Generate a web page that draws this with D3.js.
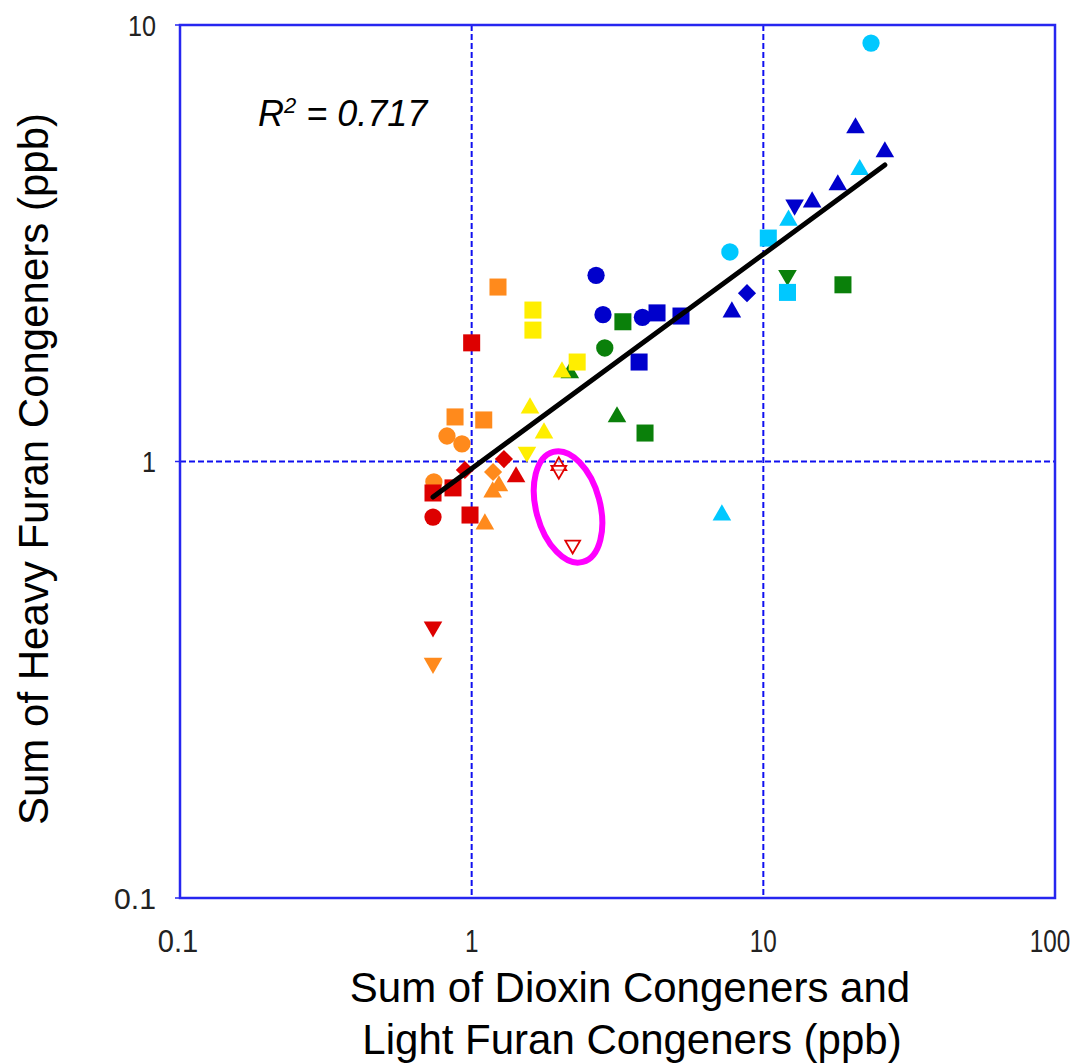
<!DOCTYPE html>
<html>
<head>
<meta charset="utf-8">
<script src="https://cdn.jsdelivr.net/npm/d3@7/dist/d3.min.js"></script>
<style>
  body { margin: 0; background: #fff; }
  svg { display: block; }
</style>
</head>
<body>
<div id="chart"></div>
<script>
// values: x = dioxin + light furan (ppb), y = heavy furan (ppb)
var redPts = [
    {x: 1.00, y: 1.87, s: "square"},
    {x: 0.737, y: 0.847, s: "square"},
    {x: 0.987, y: 0.754, s: "square"},
    {x: 0.863, y: 0.870, s: "square"},
    {x: 0.737, y: 0.746, s: "circle"},
    {x: 0.948, y: 0.956, s: "diamond"},
    {x: 1.29, y: 1.013, s: "diamond"},
    {x: 1.42, y: 0.922, s: "triangle"},
    {x: 0.737, y: 0.418, s: "down"}
];
var orangePts = [
    {x: 1.231, y: 2.51, s: "square"},
    {x: 0.877, y: 1.265, s: "square"},
    {x: 1.10, y: 1.245, s: "square"},
    {x: 0.823, y: 1.144, s: "circle"},
    {x: 0.926, y: 1.097, s: "circle"},
    {x: 0.742, y: 0.898, s: "circle"},
    {x: 1.184, y: 0.946, s: "diamond"},
    {x: 1.18, y: 0.851, s: "triangle"},
    {x: 1.24, y: 0.879, s: "triangle"},
    {x: 1.11, y: 0.719, s: "triangle"},
    {x: 0.737, y: 0.345, s: "down"}
];
var yellowPts = [
    {x: 1.622, y: 2.223, s: "square"},
    {x: 1.622, y: 2.00, s: "square"},
    {x: 2.30, y: 1.69, s: "square"},
    {x: 1.585, y: 1.326, s: "triangle"},
    {x: 1.77, y: 1.162, s: "triangle"},
    {x: 1.547, y: 1.051, s: "down"}
];
var yellowFront = [
    {x: 2.04, y: 1.603, s: "triangle"}
];
var greenPts = [
    {x: 2.17, y: 1.595, s: "triangle"},
    {x: 2.86, y: 1.82, s: "circle"},
    {x: 3.30, y: 2.09, s: "square"},
    {x: 3.15, y: 1.265, s: "triangle"},
    {x: 3.93, y: 1.162, s: "square"},
    {x: 12.1, y: 2.67, s: "down"},
    {x: 18.75, y: 2.54, s: "square"}
];
var bluePts = [
    {x: 2.67, y: 2.67, s: "circle"},
    {x: 2.82, y: 2.17, s: "circle"},
    {x: 3.85, y: 2.14, s: "circle"},
    {x: 4.32, y: 2.19, s: "square"},
    {x: 5.22, y: 2.154, s: "square"},
    {x: 3.75, y: 1.69, s: "square"},
    {x: 7.8, y: 2.20, s: "triangle"},
    {x: 8.79, y: 2.43, s: "diamond"},
    {x: 12.8, y: 3.87, s: "down"},
    {x: 14.7, y: 3.93, s: "triangle"},
    {x: 18.0, y: 4.30, s: "triangle"},
    {x: 20.7, y: 5.81, s: "triangle"},
    {x: 26.1, y: 5.12, s: "triangle"}
];
var cyanPts = [
    {x: 23.4, y: 9.09, s: "circle"},
    {x: 7.68, y: 3.02, s: "circle"},
    {x: 10.4, y: 3.25, s: "square"},
    {x: 12.2, y: 3.57, s: "triangle"},
    {x: 21.4, y: 4.66, s: "triangle"},
    {x: 12.1, y: 2.44, s: "square"},
    {x: 7.21, y: 0.754, s: "triangle"}
];
// hollow red markers inside the magenta ring
var openPts = [
    {x: 1.99, y: 0.977, s: "triangle"},
    {x: 1.99, y: 0.955, s: "down"},
    {x: 2.22, y: 0.644, s: "down"}
];
var trendEnds = [[0.737, 0.829], [26.1, 4.78]];
var rSquared = "0.717";
var ringCenter = {x: 2.14, y: 0.787};

var xTicks = [0.1, 1, 10, 100];
var yTicks = [0.1, 1, 10];
var xTitle = ["Sum of Dioxin Congeners and", "Light Furan Congeners (ppb)"];
var yTitle = "Sum of Heavy Furan Congeners (ppb)";

var width = 1083, height = 1064;
var pLeft = 180, pRight = 1055, pTop = 25, pBottom = 898;

var svg = d3.select("#chart").append("svg")
    .attr("width", width)
    .attr("height", height);

var x = d3.scaleLog().domain([0.1, 100]).range([pLeft, pRight]);
var y = d3.scaleLog().domain([0.1, 10]).range([pBottom, pTop]);

// dashed grid at the decades
svg.selectAll(".vgrid")
    .data([1, 10])
    .enter().append("line")
    .attr("x1", function (d) { return x(d); })
    .attr("x2", function (d) { return x(d); })
    .attr("y1", pTop).attr("y2", pBottom)
    .attr("stroke", "#1010f0")
    .attr("stroke-width", 2)
    .attr("stroke-dasharray", "6,3");

svg.selectAll(".hgrid")
    .data([1])
    .enter().append("line")
    .attr("x1", pLeft).attr("x2", pRight)
    .attr("y1", function (d) { return y(d); })
    .attr("y2", function (d) { return y(d); })
    .attr("stroke", "#1010f0")
    .attr("stroke-width", 2)
    .attr("stroke-dasharray", "6,3");

var shapes = {
    square: d3.symbol().type(d3.symbolSquare).size(290),
    circle: d3.symbol().type(d3.symbolCircle).size(235),
    triangle: d3.symbol().type(d3.symbolTriangle).size(150),
    down: d3.symbol().type(d3.symbolTriangle).size(150),
    diamond: d3.symbol().type(d3.symbolSquare).size(165)
};
var turn = {square: 0, circle: 0, triangle: 0, down: 180, diamond: 45};

function drawSeries(pts, color) {
    svg.append("g").selectAll("path")
        .data(pts)
        .enter().append("path")
        .attr("d", function (d) { return shapes[d.s](); })
        .attr("transform", function (d) {
            return "translate(" + x(d.x) + "," + y(d.y) + ") rotate(" + turn[d.s] + ")";
        })
        .attr("fill", color);
}

drawSeries(greenPts, "#0a800a");
drawSeries(orangePts, "#ff8a1c");
drawSeries(redPts, "#dd0000");
drawSeries(yellowPts, "#ffee00");
drawSeries(yellowFront, "#ffee00");
drawSeries(bluePts, "#0000cc");
drawSeries(cyanPts, "#00c8ff");

// trend line
var line = d3.line()
    .x(function (d) { return x(d[0]); })
    .y(function (d) { return y(d[1]); });

svg.append("path")
    .attr("d", line(trendEnds))
    .attr("fill", "none")
    .attr("stroke", "#000")
    .attr("stroke-width", 5)
    .attr("stroke-linecap", "round");

// magenta ring
svg.append("ellipse")
    .attr("cx", 0).attr("cy", 0)
    .attr("rx", 32).attr("ry", 57)
    .attr("transform", "translate(" + x(ringCenter.x) + "," + y(ringCenter.y) + ") rotate(-15)")
    .attr("fill", "none")
    .attr("stroke", "#ff00ff")
    .attr("stroke-width", 6);

var openShapes = {
    triangle: d3.symbol().type(d3.symbolTriangle).size(95),
    down: d3.symbol().type(d3.symbolTriangle).size(95)
};
svg.append("g").selectAll("path")
    .data(openPts)
    .enter().append("path")
    .attr("d", function (d) { return openShapes[d.s](); })
    .attr("transform", function (d) {
        return "translate(" + x(d.x) + "," + y(d.y) + ") rotate(" + turn[d.s] + ")";
    })
    .attr("fill", "#fff")
    .attr("fill-opacity", 0.6)
    .attr("stroke", "#e00000")
    .attr("stroke-width", 1.8);

// frame
svg.append("rect")
    .attr("x", pLeft).attr("y", pTop)
    .attr("width", pRight - pLeft).attr("height", pBottom - pTop)
    .attr("fill", "none")
    .attr("stroke", "#2626f0")
    .attr("stroke-width", 2.5);

svg.selectAll(".ytick")
    .data(yTicks)
    .enter().append("line")
    .attr("x1", pLeft - 5).attr("x2", pLeft)
    .attr("y1", function (d) { return y(d); })
    .attr("y2", function (d) { return y(d); })
    .attr("stroke", "#2626f0")
    .attr("stroke-width", 1.5);

// tick labels: narrow face, squeezed with textLength so it does not depend on the font
var tickFont = "'Liberation Sans', Arial, sans-serif";

svg.selectAll(".xlab")
    .data(xTicks)
    .enter().append("text")
    .attr("x", function (d) { return x(d) - (d === 0.1 ? 2 : 0) - (d === 100 ? 5 : 0); })
    .attr("y", 952)
    .attr("text-anchor", "middle")
    .attr("textLength", function (d) { return String(d).length * 13.5; })
    .attr("lengthAdjust", "spacingAndGlyphs")
    .style("font-family", tickFont)
    .style("font-size", "32px")
    .style("fill", "#222")
    .text(function (d) { return d; });

svg.selectAll(".ylab")
    .data(yTicks)
    .enter().append("text")
    .attr("x", 156)
    .attr("y", function (d) { return y(d); })
    .attr("dy", "0.36em")
    .attr("text-anchor", "end")
    .attr("textLength", function (d) { return String(d).length * 14; })
    .attr("lengthAdjust", "spacingAndGlyphs")
    .style("font-family", tickFont)
    .style("font-size", "30px")
    .style("fill", "#222")
    .text(function (d) { return d; });

// axis titles
svg.append("text")
    .attr("x", 630)
    .attr("y", 1002)
    .attr("text-anchor", "middle")
    .style("font-family", "'Liberation Sans', Arial, sans-serif")
    .style("font-size", "42px")
    .text(xTitle[0]);

svg.append("text")
    .attr("x", 632)
    .attr("y", 1054)
    .attr("text-anchor", "middle")
    .style("font-family", "'Liberation Sans', Arial, sans-serif")
    .style("font-size", "42px")
    .text(xTitle[1]);

svg.append("text")
    .attr("transform", "translate(48," + 469 + ") rotate(-90)")
    .attr("text-anchor", "middle")
    .style("font-family", "'Liberation Sans', Arial, sans-serif")
    .style("font-size", "42px")
    .text(yTitle);

// R squared note
var note = svg.append("text")
    .attr("x", 258)
    .attr("y", 126)
    .style("font-family", "'Liberation Sans', Arial, sans-serif")
    .style("font-style", "italic")
    .style("font-size", "36px");
note.append("tspan").text("R");
note.append("tspan").attr("dy", -13).style("font-size", "22px").text("2");
note.append("tspan").attr("dy", 13).text(" = " + rSquared);
</script>
</body>
</html>
